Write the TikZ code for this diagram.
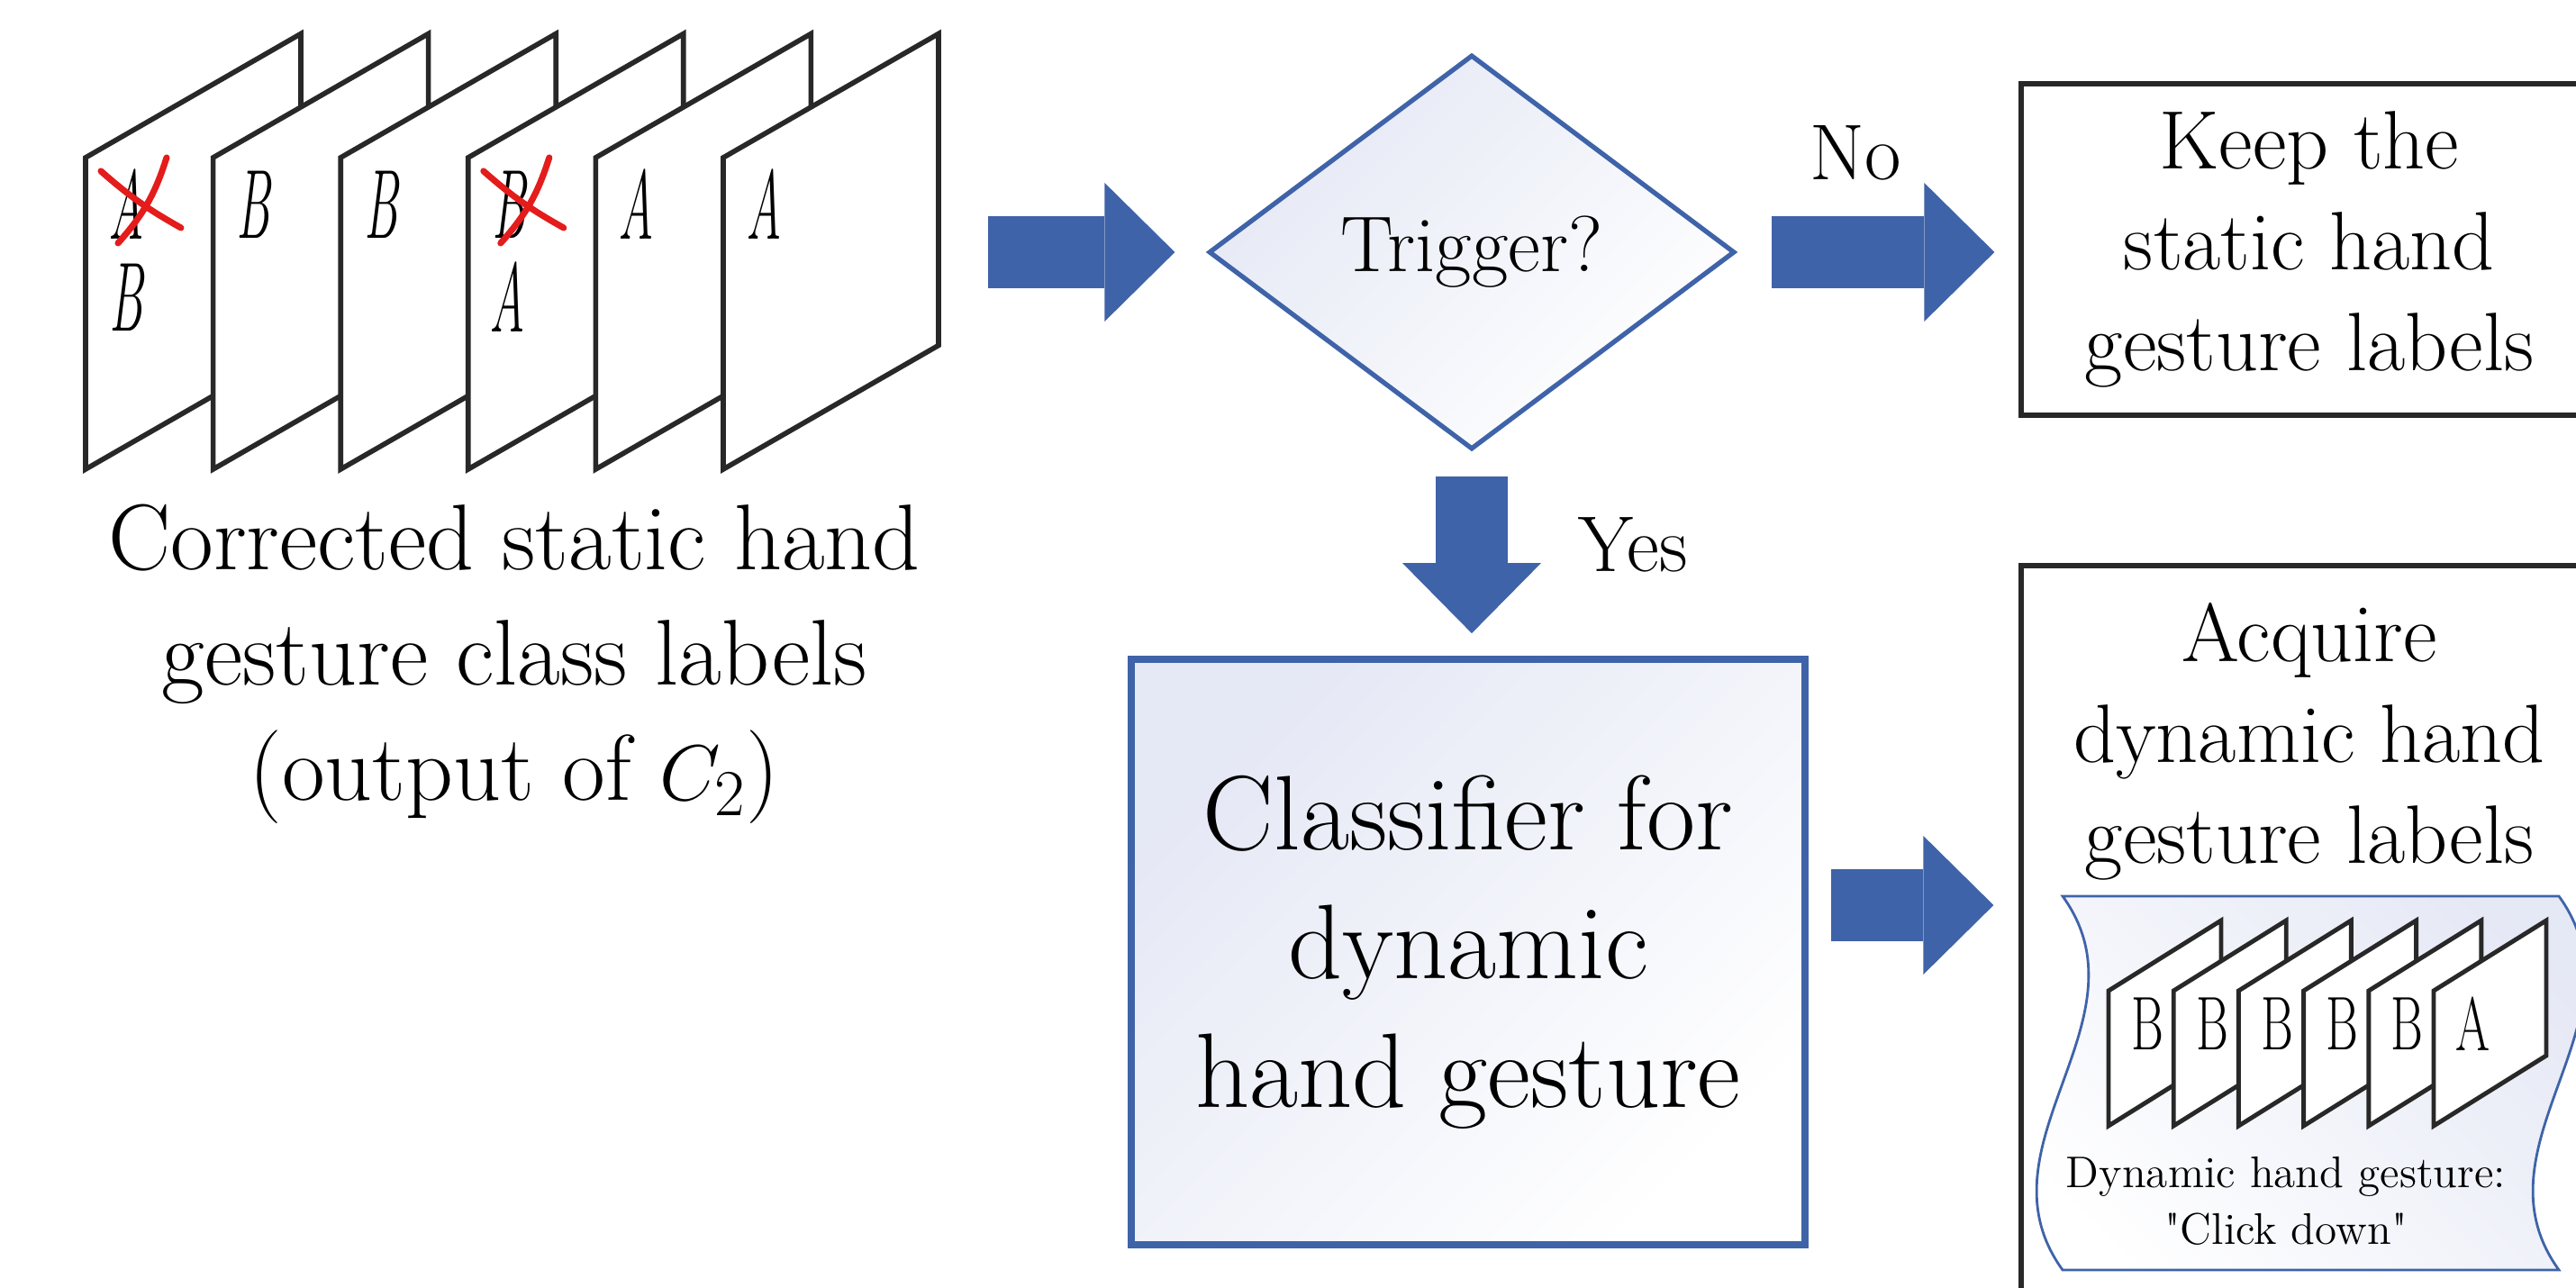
\documentclass[tikz,border=0pt]{standalone}
\usepackage{graphicx}
\usepackage{fontspec}
\usetikzlibrary{shapes.geometric, arrows.meta}

\definecolor{flowblue}{RGB}{63,99,168}
\definecolor{lav}{RGB}{229,232,245}
\definecolor{inkgray}{RGB}{40,40,40}
\definecolor{crossred}{RGB}{228,28,28}

\newcommand{\narrowtext}[2]{\scalebox{#1}[1]{#2}}

\begin{document}
\begin{tikzpicture}[
	block arrow/.style = {flowblue, line width = 8mm, -{Triangle[length = 7.8mm, width = 15.4mm, line width = 0pt]}},
	decision/.style = {diamond, draw = flowblue, line width = 1.5pt, top color = lav, bottom color = white, shading angle = 45, minimum width = 5.84cm, minimum height = 4.38cm, inner sep = 0pt, font = \fontsize{25}{30}\selectfont},
	process/.style = {rectangle, draw = flowblue, line width = 2.2pt, top color = lav, bottom color = white, shading angle = 45, minimum width = 7.48cm, minimum height = 6.5cm, align = center, font = \fontsize{33.5}{40.7}\selectfont},
	outcome/.style = {rectangle, draw = inkgray, line width = 1.5pt, fill = white, minimum width = 6.4cm, align = center, font = \fontsize{26.2}{31.9}\selectfont},
	boxtitle/.style = {align = center, inner sep = 0pt, font = \fontsize{26.2}{31.9}\selectfont},
	flowlabel/.style = {inner sep = 0pt, font = \fontsize{25}{30}\selectfont},
	seqcaption/.style = {align = center, inner sep = 0pt, font = \fontsize{29.5}{36.4}\selectfont},
	note/.style = {align = center, inner sep = 0pt, font = \fontsize{14}{18}\selectfont},
	labelframe/.style = {draw = inkgray, line width = 1.6pt, fill = white},
	miniframe/.style = {draw = inkgray, line width = 1.4pt, fill = white},
	biglabel/.style = {inner sep = 0pt, font = \fontsize{31}{31}\selectfont\itshape},
	minilabel/.style = {inner sep = 0pt, font = \fontsize{24}{24}\selectfont},
	redcross/.style = {crossred, line width = 2pt, line cap = round},
	wavybox/.style = {draw = flowblue, line width = 0.8pt, top color = lav, bottom color = white, shading angle = -45}
]

	% Canvas

	\useasboundingbox (0, 0) rectangle (28.6, 14.3);
	\clip (0, 0) rectangle (28.6, 14.3);

	% Static label sequence

	\foreach \i/\lab in {0/A, 1/B, 2/B, 3/B, 4/A, 5/A} {
		\pgfmathsetmacro\x{0.95 + 1.416 * \i}
		\draw [labelframe] (\x, 9.09) -- ++(0, 3.46) -- ++(2.39, 1.375) -- ++(0, -3.46) -- cycle;
		\node [biglabel] (s\i) at (\x + 0.45, 12.03) {\narrowtext{0.5}{\lab}};
	}
	\node [biglabel] (t0) at (1.40, 11.0) {\narrowtext{0.5}{B}};
	\node [biglabel] (t3) at (5.63, 11.0) {\narrowtext{0.5}{A}};

	\foreach \x in {0.95, 5.198} {
		\draw [redcross] (\x + 0.17, 12.40) to [bend right = 6] (\x + 1.06, 11.77);
		\draw [redcross] (\x + 0.90, 12.55) to [bend left = 12] (\x + 0.36, 11.60);
	}

	\node [seqcaption] (seqcap) at (5.71, 6.93) {Corrected static hand\\gesture class labels\\(output of $C_2$)};

	% Decision

	\coordinate (seqR) at (10.42, 11.50);
	\node [decision] (trig) at (16.34, 11.50) {Trigger?};
	\draw [block arrow, shorten <= 5.5mm, shorten >= 3.5mm] (seqR) -- (trig.west);

	% No branch

	\node [outcome, minimum height = 3.68cm] (keep) at (25.64, 11.53) {Keep the\\static hand\\gesture labels};
	\draw [block arrow, shorten <= 3.8mm, shorten >= 2.7mm] (trig.east) -- (trig.east -| keep.west);
	\node [flowlabel, anchor = base] (no) at (20.60, 12.30) {No};

	% Yes branch

	\node [process] (clf) at (16.30, 3.73) {Classifier for\\dynamic\\hand gesture};
	\draw [block arrow, shorten <= 2.7mm, shorten >= 2.5mm] (trig.south) -- (trig.south |- clf.north);
	\node [flowlabel, anchor = base] (yes) at (18.13, 7.95) {Yes};

	\node [outcome, minimum height = 9.02cm] (acq) at (25.64, 3.51) {};
	\node [boxtitle, anchor = north] (acqtitle) at ([yshift = -4.3mm] acq.north) {Acquire\\dynamic hand\\gesture labels};
	\coordinate (clfR) at ([yshift = 5.2mm] clf.east);
	\draw [block arrow, shorten <= 2.5mm, shorten >= 2.8mm] (clfR) -- (clfR -| acq.west);

	% Dynamic gesture example

	\draw [wavybox] (22.90, 4.35) .. controls (23.90, 2.97) and (21.90, 1.58) .. (22.90, 0.20) -- (28.41, 0.20) .. controls (27.41, 1.58) and (29.41, 2.97) .. (28.41, 4.35) -- cycle;

	\foreach \i/\lab in {0/B, 1/B, 2/B, 3/B, 4/B, 5/A} {
		\pgfmathsetmacro\x{23.41 + 0.722 * \i}
		\draw [miniframe] (\x, 1.80) -- ++(0, 1.50) -- ++(1.25, 0.78) -- ++(0, -1.50) -- cycle;
		\node [minilabel] (d\i) at (\x + 0.43, 2.93) {\narrowtext{0.65}{\lab}};
	}

	\node [note] (dyncap) at (25.38, 0.965) {Dynamic hand gesture:\\\textquotedbl Click down\textquotedbl};

\end{tikzpicture}
\end{document}
